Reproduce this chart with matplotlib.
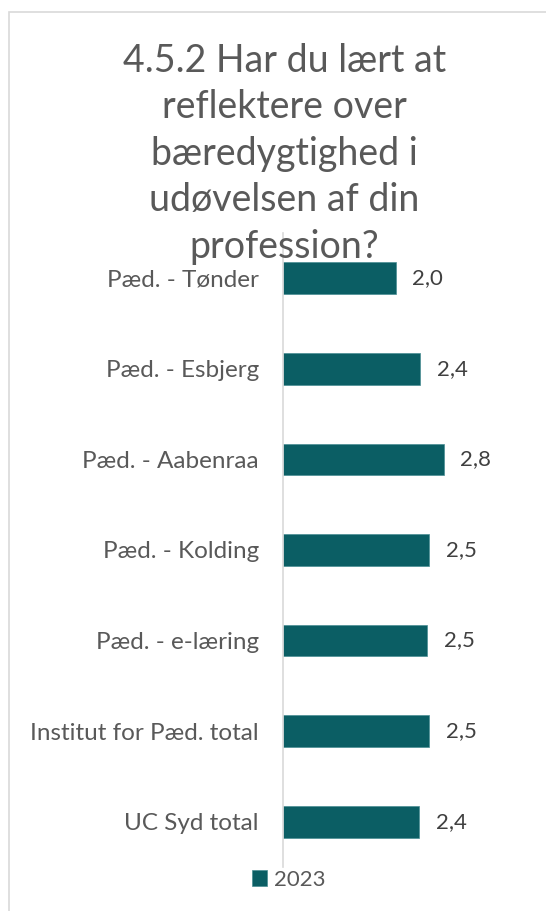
import matplotlib
matplotlib.use("Agg")
import matplotlib.pyplot as plt
from matplotlib.patches import Rectangle

categories = ["Pæd. - Tønder", "Pæd. - Esbjerg", "Pæd. - Aabenraa", "Pæd. - Kolding",
              "Pæd. - e-læring", "Institut for Pæd. total", "UC Syd total"]
values_2023 = [1.96, 2.38, 2.79, 2.54, 2.51, 2.54, 2.37]
series_name = "2023"
title = "4.5.2 Har du lært at\nreflektere over\nbæredygtighed i\nudøvelsen af din\nprofession?"

teal = "#0B5E64"
grey_text = "#595959"

plt.rcParams['font.family'] = ['Lato', 'DejaVu Sans']

W, H = 546, 911
fig = plt.figure(figsize=(W / 100, H / 100), dpi=100)

# chart frame (cropped on right and bottom)
fig.patches.append(Rectangle((8.5 / W, -0.1), 1.0, 1.1 - 12 / H, transform=fig.transFigure,
                             fill=False, edgecolor="#D9D9D9", linewidth=1.2))

ax = fig.add_axes([282.5 / W, 44 / H, 4.5 * 57.75 / W, 634 / H])
ypos = list(range(len(categories)))
bars = ax.barh(ypos, values_2023, height=0.35, color=teal, edgecolor="#4A8E93",
               linewidth=0.5, label=series_name)
ax.set_ylim(len(categories) - 0.5, -0.5)
ax.set_xlim(0, 4.5)
ax.set_yticks(ypos)
ax.set_yticklabels(categories, fontsize=17.5, color=grey_text)
ax.tick_params(axis='y', length=0, pad=17)
ax.set_xticks([])
for s in ["top", "right", "bottom"]:
    ax.spines[s].set_visible(False)
ax.spines["left"].set_color("#D9D9D9")
ax.spines["left"].set_linewidth(1.2)

ax.bar_label(bars, labels=[f"{v:.1f}".replace(".", ",") for v in values_2023],
             padding=12, fontsize=16, color="#404040")

fig.text(284.5 / W, 1 - 43 / H, title, ha="center", va="top", fontsize=27,
         color=grey_text, linespacing=1.36)

fig.legend(loc="center", bbox_to_anchor=(288.5 / W, 1 - 880 / H), frameon=False,
           fontsize=16, handlelength=0.7, handleheight=0.7, handletextpad=0.3,
           labelcolor=grey_text)

fig.savefig("out.png", dpi=100)
